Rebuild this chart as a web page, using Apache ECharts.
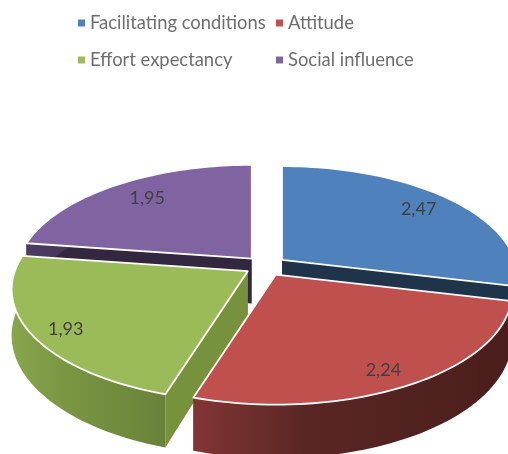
<!DOCTYPE html>
<html lang="en">
  <head>
    <meta charset="UTF-8" />
    <title>Pie 3D</title>
    <script src="https://cdn.jsdelivr.net/npm/echarts@6/dist/echarts.min.js"></script>
    <style>
      html, body { margin: 0; background: #fff; }
      #chart { width: 508px; height: 454px; }
    </style>
  </head>
  <body>
    <div id="chart"></div>
  </body>
</html>
<script>
  const categories = ["Facilitating conditions", "Attitude", "Effort expectancy", "Social influence"];
  const values = [2.47, 2.24, 1.93, 1.95];
  const topColors = ["#4f81bd", "#c0504d", "#9bbb59", "#8064a2"];
  const cutColors = ["#1f344b", "#33201f", "#76923c", "#33263f"];
  const wallColors = [
    ["#2b4a6e", "#233b57", "#1f344b"],
    ["#813634", "#5a2624", "#4a1e1c"],
    ["#88a64c", "#7a9642", "#69823a"],
    ["#4d3c62", "#3f3050", "#33263f"],
  ];
  // back slices first so the front ones cover them
  const paintOrder = [3, 0, 2, 1];
  // hand nudges for the data labels, px
  const labelNudge = [[-2, 0], [1, 8], [-8, 7], [9, 1]];

  // ellipse + a bit of perspective, tweaked by eye against the picture
  const cx = 265.5, cy = 266, ax = 233, by = 109;
  const persp = 0.162, depth = 45, explode = 0.09, labelR = 0.82;
  const total = values.reduce((a, b) => a + b, 0);

  function slice(i) {
    const before = values.slice(0, i).reduce((a, b) => a + b, 0);
    const a1 = (before / total) * Math.PI * 2;
    const a2 = ((before + values[i]) / total) * Math.PI * 2;
    const mid = (a1 + a2) / 2;
    const apex = [cx + explode * ax * Math.sin(mid), cy - explode * by * Math.cos(mid)];
    return { a1, a2, mid, apex };
  }

  // point at angle a (clockwise from top), r = fraction of the radius
  function rim(s, a, r) {
    const u = Math.sin(a) * r, v = -Math.cos(a) * r;
    const k = 1 / (1 - persp * v);
    return [s.apex[0] + ax * u * k, s.apex[1] + by * v * k, k];
  }

  function arc(s) {
    const pts = [];
    const n = 60;
    for (let j = 0; j <= n; j++) pts.push(rim(s, s.a1 + ((s.a2 - s.a1) * j) / n, 1));
    return pts;
  }

  function poly(points, style, z2) {
    return { type: "polygon", z2, silent: true, shape: { points }, style };
  }

  function renderSlice(i) {
    const s = slice(i);
    const pts = arc(s);
    const first = pts[0], last = pts[pts.length - 1];
    const down = (p, k) => [p[0], p[1] + depth * k];
    const cut = (p) => poly(
      [s.apex, [p[0], p[1]], down(p, p[2]), down(s.apex, 1)],
      { fill: cutColors[i] }, 1
    );
    const wall = pts.map((p) => [p[0], p[1]])
      .concat(pts.slice().reverse().map((p) => down(p, p[2])));
    const top = [s.apex].concat(pts.map((p) => [p[0], p[1]]));
    const lab = rim(s, s.mid, labelR);
    return {
      type: "group",
      children: [
        cut(first),
        cut(last),
        poly(wall, {
          fill: new echarts.graphic.LinearGradient(0, 0, 1, 0, [
            { offset: 0, color: wallColors[i][0] },
            { offset: 0.35, color: wallColors[i][1] },
            { offset: 1, color: wallColors[i][2] },
          ]),
        }, 2),
        poly(top, { fill: topColors[i], stroke: "#fff", lineWidth: 1.8, lineJoin: "round" }, 3),
        {
          type: "text", z2: 4, silent: true,
          style: {
            x: lab[0] + labelNudge[i][0], y: lab[1] + labelNudge[i][1],
            text: String(values[i]).replace(".", ","),
            font: "18px Lato", fill: "#404040",
            textAlign: "center", textVerticalAlign: "middle",
          },
        },
      ],
    };
  }

  const legendText = { fontFamily: "Lato", fontSize: 18.4, color: "#6e6e6e" };
  const legendBase = {
    orient: "vertical", top: 14, itemWidth: 7, itemHeight: 7, itemGap: 19,
    icon: "rect", textStyle: legendText, selectedMode: false, padding: 0,
  };

  const chart = echarts.init(document.getElementById("chart"), null, { renderer: "canvas" });
  chart.setOption({
    animation: false,
    legend: [
      { ...legendBase, left: 78, data: [categories[0], categories[2]] },
      { ...legendBase, left: 276, data: [categories[1], categories[3]] },
    ],
    series: paintOrder.map((i) => ({
      type: "custom",
      name: categories[i],
      coordinateSystem: "none",
      itemStyle: { color: topColors[i] },
      z: paintOrder.indexOf(i) + 2,
      data: [values[i]],
      renderItem: () => renderSlice(i),
    })),
  });
</script>
